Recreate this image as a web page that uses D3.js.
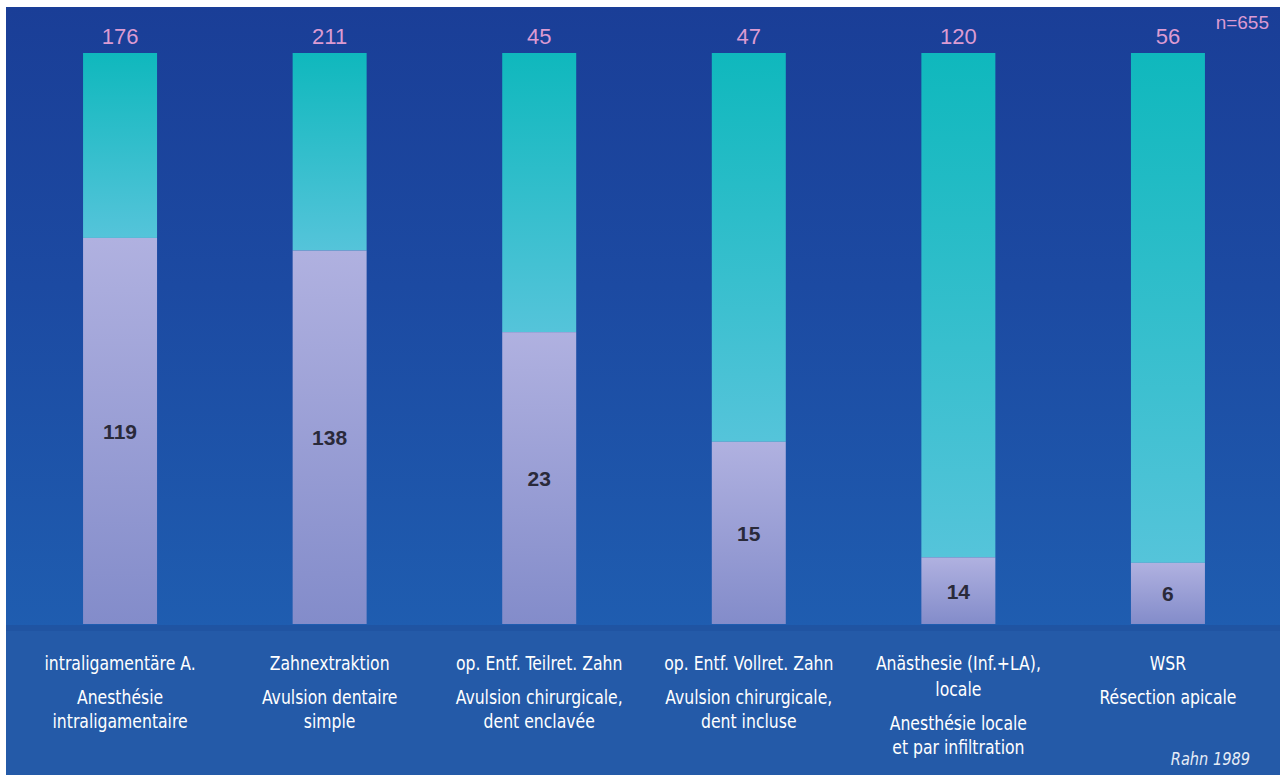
<!doctype html>
<html lang="de">
<head>
<meta charset="utf-8">
<script src="https://d3js.org/d3.v7.min.js"></script>
<style>
  html, body { margin: 0; padding: 0; background: #fff; }
  svg { display: block; }
</style>
</head>
<body>
<svg id="chart" width="1280" height="775"></svg>
<script>
// data
var keys = ["intra", "extr", "teil", "voll", "anae", "wsr"];
var germanLabels = [
  ["intraligamentäre A."],
  ["Zahnextraktion"],
  ["op. Entf. Teilret. Zahn"],
  ["op. Entf. Vollret. Zahn"],
  ["Anästhesie (Inf.+LA),", "locale"],
  ["WSR"]
];
var frenchLabels = [
  ["Anesthésie", "intraligamentaire"],
  ["Avulsion dentaire", "simple"],
  ["Avulsion chirurgicale,", "dent enclavée"],
  ["Avulsion chirurgicale,", "dent incluse"],
  ["Anesthésie locale", "et par infiltration"],
  ["Résection apicale"]
];
var totals = [176, 211, 45, 47, 120, 56];
var lowerValues = [119, 138, 23, 15, 14, 6];
var nTotal = 655;
var source = "Rahn 1989";

var data = keys.map(function(k, i) {
  return { key: k, total: totals[i], low: lowerValues[i], de: germanLabels[i], fr: frenchLabels[i] };
});

var svg = d3.select("#chart");
var W = 1280, H = 775;

var defs = svg.append("defs");
var bg = defs.append("linearGradient").attr("id", "bg").attr("x1", 0).attr("y1", 0).attr("x2", 0).attr("y2", 1);
bg.append("stop").attr("offset", "0%").attr("stop-color", "#1a3e97");
bg.append("stop").attr("offset", "45%").attr("stop-color", "#1c4aa2");
bg.append("stop").attr("offset", "100%").attr("stop-color", "#1f5db0");

var teal = defs.append("linearGradient").attr("id", "teal").attr("x1", 0).attr("y1", 0).attr("x2", 0).attr("y2", 1);
teal.append("stop").attr("offset", "0%").attr("stop-color", "#0fb8bd");
teal.append("stop").attr("offset", "100%").attr("stop-color", "#55c4da");

var lav = defs.append("linearGradient").attr("id", "lav").attr("x1", 0).attr("y1", 0).attr("x2", 0).attr("y2", 1);
lav.append("stop").attr("offset", "0%").attr("stop-color", "#b0b1e0");
lav.append("stop").attr("offset", "100%").attr("stop-color", "#838cca");

// background panels
svg.append("rect").attr("x", 6).attr("y", 7).attr("width", W - 6).attr("height", 620).attr("fill", "url(#bg)");
svg.append("rect").attr("x", 6).attr("y", 627).attr("width", W - 6).attr("height", H - 627).attr("fill", "#245aa8");
svg.append("rect").attr("x", 6).attr("y", 625).attr("width", W - 6).attr("height", 6).attr("fill", "#1f52a0").attr("opacity", 0.8);

var x = d3.scaleBand().domain(keys).range([16, 1272]).paddingInner(0.647).paddingOuter(0.32);
var y = d3.scaleLinear().domain([0, 1]).range([624, 53]);

var g = svg.append("g");
var bars = g.selectAll("g.bar").data(data).enter().append("g").attr("class", "bar");

// upper (teal) part
bars.append("rect")
  .attr("x", function(d) { return x(d.key); })
  .attr("width", x.bandwidth())
  .attr("y", y(1))
  .attr("height", function(d) { return y(d.low / d.total) - y(1); })
  .attr("fill", "url(#teal)");

// lower (lavender) part
bars.append("rect")
  .attr("x", function(d) { return x(d.key); })
  .attr("width", x.bandwidth())
  .attr("y", function(d) { return y(d.low / d.total); })
  .attr("height", function(d) { return y(0) - y(d.low / d.total); })
  .attr("fill", "url(#lav)");

// lower values
bars.append("text")
  .attr("x", function(d) { return x(d.key) + x.bandwidth() / 2; })
  .attr("y", function(d) { return (y(d.low / d.total) + y(0)) / 2 + 8; })
  .attr("text-anchor", "middle")
  .attr("font-family", "Liberation Sans, Arial, sans-serif")
  .attr("font-weight", "bold")
  .attr("font-size", 21)
  .attr("fill", "#2a2a3a")
  .text(function(d) { return d.low; });

// totals
bars.append("text")
  .attr("x", function(d) { return x(d.key) + x.bandwidth() / 2; })
  .attr("y", 44)
  .attr("text-anchor", "middle")
  .attr("font-family", "Liberation Sans, Arial, sans-serif")
  .attr("font-size", 22)
  .attr("fill", "#dc9bd2")
  .text(function(d) { return d.total; });

svg.append("text")
  .attr("x", 1269).attr("y", 29)
  .attr("text-anchor", "end")
  .attr("font-family", "Liberation Sans, Arial, sans-serif")
  .attr("font-size", 19)
  .attr("fill", "#dc9bd2")
  .text("n=" + nTotal);

// category labels (condensed look: squeeze horizontally)
var labelFont = "DejaVu Sans Condensed, Liberation Sans Narrow, Arial Narrow, sans-serif";
function label(sel, cx, yy, txt, size, italic) {
  sel.append("text")
    .attr("transform", "translate(" + cx + "," + yy + ") scale(0.87,1)")
    .attr("text-anchor", "middle").attr("font-family", labelFont)
    .attr("font-style", italic ? "italic" : null)
    .attr("font-size", size).attr("fill", "#ffffff").text(txt);
}
bars.each(function(d) {
  var cx = x(d.key) + x.bandwidth() / 2;
  var t = d3.select(this);
  var yy = 670;
  d.de.forEach(function(line, j) { label(t, cx, yy + j * 26, line, 20); });
  yy = yy + (d.de.length - 1) * 26 + 34;
  d.fr.forEach(function(line, j) { label(t, cx, yy + j * 24, line, 20); });
});

svg.append("text")
  .attr("transform", "translate(1250,765) scale(0.9,1)")
  .attr("text-anchor", "end")
  .attr("font-family", labelFont)
  .attr("font-style", "italic")
  .attr("font-size", 18)
  .attr("fill", "#e6ecf6")
  .text(source);
</script>
</body>
</html>
